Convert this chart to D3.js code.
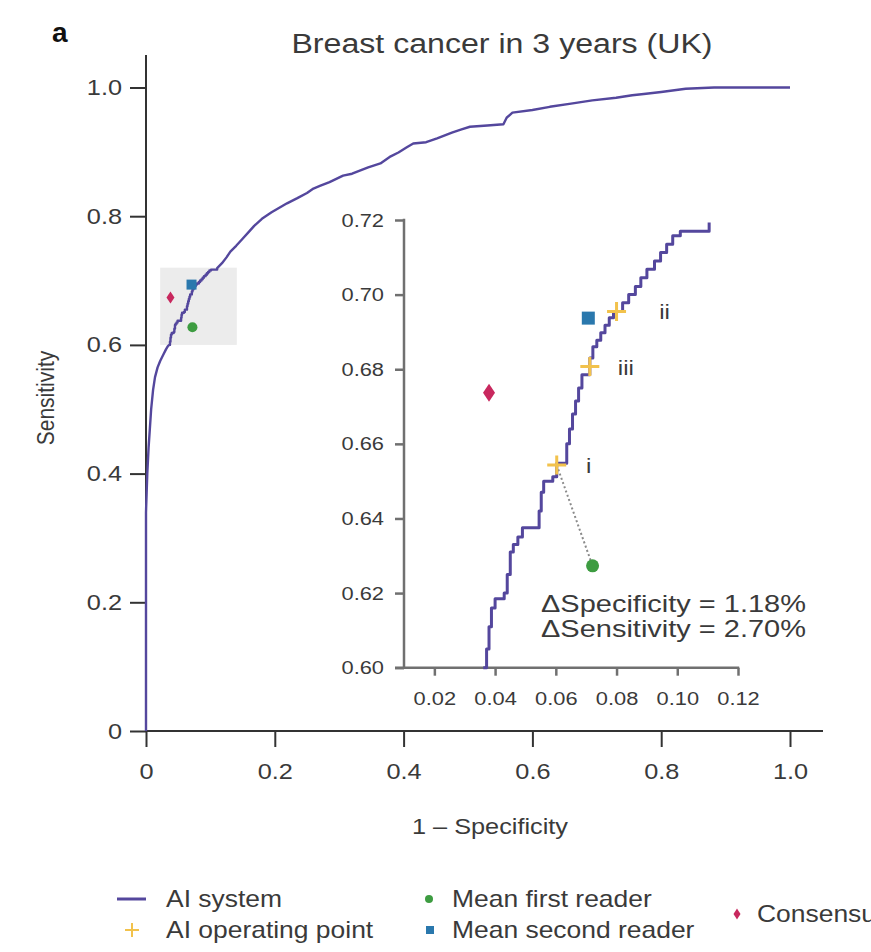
<!DOCTYPE html>
<html>
<head>
<meta charset="utf-8">
<script src="https://cdn.jsdelivr.net/npm/d3@7"></script>
<style>
  body { margin: 0; background: #fff; }
  text { font-family: "Liberation Sans", Arial, Helvetica, sans-serif; }
</style>
</head>
<body>
<svg id="chart" width="871" height="952"></svg>
<script>
// ---------- data ----------
const mainTicks = [0, 0.2, 0.4, 0.6, 0.8, 1.0];
const insetXTicks = [0.02, 0.04, 0.06, 0.08, 0.10, 0.12];
const insetYTicks = [0.60, 0.62, 0.64, 0.66, 0.68, 0.70, 0.72];

// ROC curve of the AI system: [1 - specificity, sensitivity]
const rocLow = [
  [0, 0], [0, 0.34], [0.001, 0.37], [0.002, 0.40], [0.004, 0.44], [0.006, 0.47],
  [0.008, 0.50], [0.011, 0.53], [0.014, 0.55], [0.018, 0.565], [0.022, 0.575],
  [0.027, 0.585], [0.031, 0.593], [0.034, 0.598]
];
const rocMid = [
  [0.0361, 0.6000], [0.0372, 0.6000], [0.0372, 0.6050], [0.0380, 0.6050], [0.0380, 0.6110],
  [0.0388, 0.6110], [0.0388, 0.6160], [0.0400, 0.6160], [0.0400, 0.6185], [0.0430, 0.6185],
  [0.0430, 0.6200], [0.0440, 0.6200], [0.0440, 0.6250], [0.0450, 0.6250], [0.0450, 0.6310],
  [0.0460, 0.6310], [0.0460, 0.6330], [0.0475, 0.6330], [0.0475, 0.6350], [0.0490, 0.6350],
  [0.0490, 0.6375], [0.0545, 0.6375], [0.0545, 0.6420], [0.0552, 0.6420], [0.0552, 0.6470],
  [0.0560, 0.6470], [0.0560, 0.6500], [0.0590, 0.6500], [0.0590, 0.6512], [0.0603, 0.6512],
  [0.0603, 0.6548], [0.0636, 0.6548], [0.0636, 0.6600], [0.0645, 0.6600], [0.0645, 0.6640],
  [0.0655, 0.6640], [0.0655, 0.6680], [0.0665, 0.6680], [0.0665, 0.6715], [0.0675, 0.6715],
  [0.0675, 0.6750], [0.0686, 0.6750], [0.0686, 0.6785], [0.0712, 0.6785], [0.0712, 0.6830],
  [0.0722, 0.6830], [0.0722, 0.6860], [0.0735, 0.6860], [0.0735, 0.6878], [0.0748, 0.6878],
  [0.0748, 0.6898], [0.0762, 0.6898], [0.0762, 0.6918], [0.0776, 0.6918], [0.0776, 0.6938],
  [0.0790, 0.6938], [0.0790, 0.6955], [0.0820, 0.6955], [0.0820, 0.6978], [0.0840, 0.6978],
  [0.0840, 0.7000], [0.0862, 0.7000], [0.0862, 0.7022], [0.0880, 0.7022], [0.0880, 0.7045],
  [0.0900, 0.7045], [0.0900, 0.7068], [0.0925, 0.7068], [0.0925, 0.7090], [0.0945, 0.7090],
  [0.0945, 0.7113], [0.0965, 0.7113], [0.0965, 0.7135], [0.0985, 0.7135], [0.0985, 0.7158],
  [0.1010, 0.7158], [0.1010, 0.7170], [0.1105, 0.7170], [0.1105, 0.7193]
];
const rocHigh = [
  [0.118, 0.727], [0.125, 0.736], [0.131, 0.745], [0.140, 0.754], [0.150, 0.765],
  [0.160, 0.776], [0.168, 0.785], [0.180, 0.796], [0.195, 0.806], [0.205, 0.812],
  [0.219, 0.820], [0.235, 0.828], [0.250, 0.836], [0.260, 0.843], [0.270, 0.847],
  [0.285, 0.853], [0.306, 0.863], [0.320, 0.866], [0.330, 0.870], [0.345, 0.876],
  [0.364, 0.882], [0.380, 0.893], [0.392, 0.899], [0.405, 0.907], [0.415, 0.913],
  [0.435, 0.915], [0.452, 0.921], [0.475, 0.930], [0.490, 0.935], [0.503, 0.939],
  [0.530, 0.941], [0.555, 0.943], [0.560, 0.953], [0.569, 0.961], [0.600, 0.965],
  [0.627, 0.970], [0.660, 0.975], [0.693, 0.980], [0.730, 0.984], [0.755, 0.988],
  [0.773, 0.990], [0.800, 0.993], [0.838, 0.998], [0.882, 1.000], [1.000, 1.000]
];

const aiOperatingPoints = [
  { label: "i",   fpr: 0.0603, tpr: 0.6543 },
  { label: "ii",  fpr: 0.0800, tpr: 0.6955 },
  { label: "iii", fpr: 0.0712, tpr: 0.6807 }
];
const firstReader  = { fpr: 0.0721, tpr: 0.6273 };
const secondReader = { fpr: 0.0707, tpr: 0.6937 };
const consensus    = { fpr: 0.0380, tpr: 0.6737 };
const zoomRegion   = { x0: 0.022, x1: 0.141, y0: 0.60, y1: 0.72 };

// ---------- styles ----------
const C = {
  curve: "#54479d", op: "#f2c24c", first: "#3d9c41", second: "#2a78ad",
  consensus: "#c8285e", axis: "#333", insetAxis: "#707070", text: "#3a3a3a", box: "#ececec"
};
const SX = 1.15;   // horizontal widening of the lettering

const svg = d3.select("#chart");
svg.append("rect").attr("width", 871).attr("height", 952).attr("fill", "#fff");

function stretch(sel, k) {
  sel.each(function () {
    const t = d3.select(this);
    const x = +t.attr("x") || 0;
    t.attr("x", x / k).attr("transform", `scale(${k},1)`);
  });
}
function label(parent, x, y, str, o = {}) {
  const g = parent.append("g").attr("transform", `translate(${x},${y})` + (o.rotate ? ` rotate(${o.rotate})` : ""));
  const k = o.k || SX;
  return g.append("text")
    .attr("transform", o.rotate ? `scale(1,${k})` : `scale(${k},1)`)
    .attr("text-anchor", o.anchor || "start")
    .attr("font-size", o.size || 22)
    .attr("font-weight", o.weight || "normal")
    .attr("fill", o.fill || C.text)
    .text(str);
}

// ---------- main plot ----------
const x = d3.scaleLinear().domain([0, 1]).range([146, 790]);
const y = d3.scaleLinear().domain([0, 1]).range([731, 87.5]);

// highlighted zoom region
svg.append("rect")
  .attr("x", x(zoomRegion.x0)).attr("y", y(zoomRegion.y1))
  .attr("width", x(zoomRegion.x1) - x(zoomRegion.x0))
  .attr("height", y(zoomRegion.y0) - y(zoomRegion.y1))
  .attr("fill", C.box);

const fmtMain = d => d === 0 ? "0" : d.toFixed(1);
const gx = svg.append("g").attr("transform", `translate(0,${y(0)})`)
  .call(d3.axisBottom(x).tickValues(mainTicks).tickFormat(fmtMain).tickSize(16).tickPadding(16).tickSizeOuter(0));
const gy = svg.append("g").attr("transform", `translate(${x(0)},0)`)
  .call(d3.axisLeft(y).tickValues(mainTicks).tickFormat(fmtMain).tickSize(16).tickPadding(8).tickSizeOuter(0));
[gx, gy].forEach(g => {
  g.select(".domain").remove();
  g.selectAll(".tick line").attr("stroke", C.axis).attr("stroke-width", 2);
  g.selectAll(".tick text").attr("font-size", 22).attr("fill", C.text)
    .attr("font-family", '"Liberation Sans", Arial, sans-serif');
  stretch(g.selectAll(".tick text"), SX);
});
svg.append("line").attr("x1", x(0)).attr("x2", 823).attr("y1", y(0)).attr("y2", y(0))
  .attr("stroke", C.axis).attr("stroke-width", 2);
svg.append("line").attr("x1", x(0)).attr("x2", x(0)).attr("y1", y(0)).attr("y2", 55)
  .attr("stroke", C.axis).attr("stroke-width", 2);

const fullRoc = rocLow.concat(rocMid, rocHigh);
svg.append("path").datum(fullRoc)
  .attr("fill", "none").attr("stroke", C.curve).attr("stroke-width", 2.4)
  .attr("stroke-linejoin", "round")
  .attr("d", d3.line().x(d => x(d[0])).y(d => y(d[1])));

// reader markers on the main plot
function diamond(g, cx, cy, w, h, fill) {
  g.append("path").attr("d", `M${cx},${cy - h / 2}L${cx + w / 2},${cy}L${cx},${cy + h / 2}L${cx - w / 2},${cy}Z`).attr("fill", fill);
}
function square(g, cx, cy, s, fill) {
  g.append("rect").attr("x", cx - s / 2).attr("y", cy - s / 2).attr("width", s).attr("height", s).attr("fill", fill);
}
function plus(g, cx, cy, s, stroke, w) {
  g.append("path").attr("d", `M${cx - s / 2},${cy}H${cx + s / 2}M${cx},${cy - s / 2}V${cy + s / 2}`)
    .attr("stroke", stroke).attr("stroke-width", w).attr("fill", "none");
}
diamond(svg, x(consensus.fpr), y(consensus.tpr), 8, 12, C.consensus);
square(svg, x(secondReader.fpr), y(secondReader.tpr), 10, C.second);
svg.append("circle").attr("cx", x(firstReader.fpr)).attr("cy", y(firstReader.tpr)).attr("r", 5).attr("fill", C.first);

// ---------- inset ----------
const xi = d3.scaleLinear().domain([0.01, 0.12]).range([404, 738]);
const yi = d3.scaleLinear().domain([0.60, 0.72]).range([667.7, 220]);
const gxi = svg.append("g").attr("transform", `translate(0,${yi(0.60)})`)
  .call(d3.axisBottom(xi).tickValues(insetXTicks).tickFormat(d3.format(".2f")).tickSize(8).tickPadding(16).tickSizeOuter(0));
const gyi = svg.append("g").attr("transform", `translate(${xi(0.01)},0)`)
  .call(d3.axisLeft(yi).tickValues(insetYTicks).tickFormat(d3.format(".2f")).tickSize(9).tickPadding(11).tickSizeOuter(0));
[gxi, gyi].forEach(g => {
  g.select(".domain").remove();
  g.selectAll(".tick line").attr("stroke", C.insetAxis).attr("stroke-width", 2.5);
  g.selectAll(".tick text").attr("font-size", 19).attr("fill", C.text)
    .attr("font-family", '"Liberation Sans", Arial, sans-serif');
  stretch(g.selectAll(".tick text"), SX);
});
svg.append("line").attr("x1", xi(0.01) - 9).attr("x2", xi(0.12) + 1.2).attr("y1", yi(0.60)).attr("y2", yi(0.60))
  .attr("stroke", C.insetAxis).attr("stroke-width", 2.5);
svg.append("line").attr("x1", xi(0.01)).attr("x2", xi(0.01)).attr("y1", yi(0.60)).attr("y2", yi(0.72) - 1.2)
  .attr("stroke", C.insetAxis).attr("stroke-width", 2.5);

svg.append("path").datum(rocMid)
  .attr("fill", "none").attr("stroke", C.curve).attr("stroke-width", 3)
  .attr("stroke-linejoin", "round")
  .attr("d", d3.line().x(d => xi(d[0])).y(d => yi(d[1])));

// dotted connector between operating point i and the mean first reader
const opI = aiOperatingPoints.find(p => p.label === "i");
svg.append("line")
  .attr("x1", xi(opI.fpr)).attr("y1", yi(opI.tpr))
  .attr("x2", xi(firstReader.fpr)).attr("y2", yi(firstReader.tpr))
  .attr("stroke", "#8a8a8a").attr("stroke-width", 2).attr("stroke-dasharray", "2,2.5");

diamond(svg, xi(consensus.fpr), yi(consensus.tpr), 12, 18, C.consensus);
square(svg, xi(secondReader.fpr), yi(secondReader.tpr), 13, C.second);
svg.append("circle").attr("cx", xi(firstReader.fpr)).attr("cy", yi(firstReader.tpr)).attr("r", 6.5).attr("fill", C.first);
aiOperatingPoints.forEach(p => plus(svg, xi(p.fpr), yi(p.tpr), 19, C.op, 3));

const numeralOffset = { i: [32, 8], ii: [48, 8], iii: [36, 8] };
aiOperatingPoints.forEach(p => {
  const o = numeralOffset[p.label];
  label(svg, xi(p.fpr) + o[0], yi(p.tpr) + o[1], p.label, { size: 21, anchor: "middle" });
});

const dSpec = ((firstReader.fpr - opI.fpr) * 100).toFixed(2);
const dSens = ((opI.tpr - firstReader.tpr) * 100).toFixed(2);
label(svg, 541, 612, `\u0394Specificity = ${dSpec}%`, { size: 23, k: 1.26 });
label(svg, 541, 637, `\u0394Sensitivity = ${dSens}%`, { size: 23, k: 1.26 });

// ---------- titles ----------
label(svg, 52, 42, "a", { size: 28, weight: "bold", fill: "#111", k: 1 });
label(svg, 502, 53, "Breast cancer in 3 years (UK)", { size: 27, anchor: "middle", k: 1.19 });
label(svg, 54, 398, "Sensitivity", { size: 21, anchor: "middle", rotate: -90 });
label(svg, 490, 834, "1 \u2013 Specificity", { size: 22, anchor: "middle" });

// ---------- legend ----------
const lg = svg.append("g");
lg.append("line").attr("x1", 117).attr("x2", 146).attr("y1", 899).attr("y2", 899)
  .attr("stroke", C.curve).attr("stroke-width", 3);
label(lg, 166, 907, "AI system", { size: 23 });
plus(lg, 132, 930, 14, C.op, 2);
label(lg, 166, 938, "AI operating point", { size: 23 });
lg.append("circle").attr("cx", 429).attr("cy", 899).attr("r", 4).attr("fill", C.first);
label(lg, 452, 907, "Mean first reader", { size: 23 });
square(lg, 430, 930, 8, C.second);
label(lg, 452, 938, "Mean second reader", { size: 23 });
diamond(lg, 737, 914, 7, 11, C.consensus);
label(lg, 757, 922, "Consensus", { size: 23 });
</script>
</body>
</html>
